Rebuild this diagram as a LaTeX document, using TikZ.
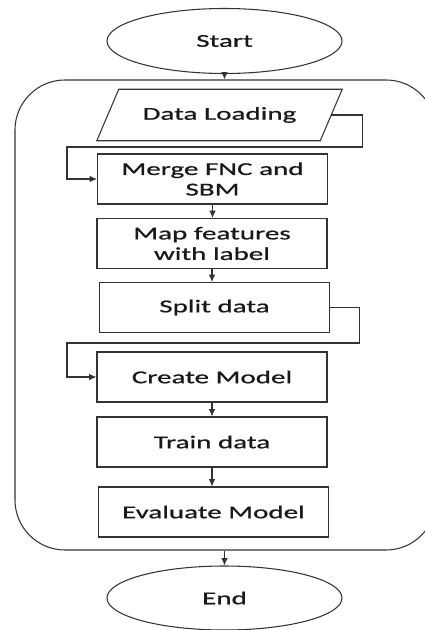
\documentclass[tikz,border=0pt]{standalone}
\usepackage{fontspec}
\setmainfont{Carlito}[FakeStretch=1.6, FakeBold=0.8]
\usetikzlibrary{shapes.geometric, arrows.meta}

\begin{document}
\begin{tikzpicture}[x=0.3mm, y=-0.3mm,
    font=\fontsize{15.5}{17.5}\selectfont,
    line/.style={draw=black!80, line width=0.9pt},
    arr/.style={line, -{Latex[length=2.2mm, width=2mm]}},
    box/.style={line, minimum width=69mm, minimum height=15mm, align=center, text=black!90},
    term/.style={line, ellipse, minimum width=70.5mm, minimum height=19.5mm, text=black!90}]
        \useasboundingbox (0, 0) rectangle (425, 630);
        \node (proc) at (225.5, 315) [line, rounded corners=15mm, minimum width=126.3mm, minimum height=141mm] {};
        \node (start) at (224.5, 41) [term] {Start};
        \node (load) at (219.5, 115) [minimum width=66.9mm, minimum height=15.3mm, text=black!90] {Data Loading};
        \draw [line] ([xshift=3.3mm]load.north west) -- ([xshift=3.3mm]load.north east)
            -- ([xshift=-3.3mm]load.south east) -- ([xshift=-3.3mm]load.south west) -- cycle;
        \node (merge) at (212.5, 179) [box] {Merge FNC and\\SBM};
        \node (map) at (212, 243.5) [box] {Map features\\with label};
        \node (split) at (214.5, 307.5) [box] {Split data};
        \node (create) at (212, 377) [box] {Create Model};
        \node (train) at (212, 442) [box] {Train data};
        \node (eval) at (213.5, 512) [box] {Evaluate Model};
        \node (end) at (224.5, 598) [term, minimum height=19.2mm] {End};
        \draw [arr] (start) -- (start.south |- proc.north);
        \draw [arr] (load.east) -- ++(31, 0) |- (67, 147) |- (merge.west);
        \draw [arr] (merge) -- (merge.south |- map.north);
        \draw [arr] (map) -- (map.south |- split.north);
        \draw [arr] (split.east) -- ++(29, 0) |- (67, 343) |- (create.west);
        \draw [arr] (create) -- (create.south |- train.north);
        \draw [arr] (train) -- (train.south |- eval.north);
        \draw [arr] (proc.south -| end.north) -- (end);
\end{tikzpicture}
\end{document}
